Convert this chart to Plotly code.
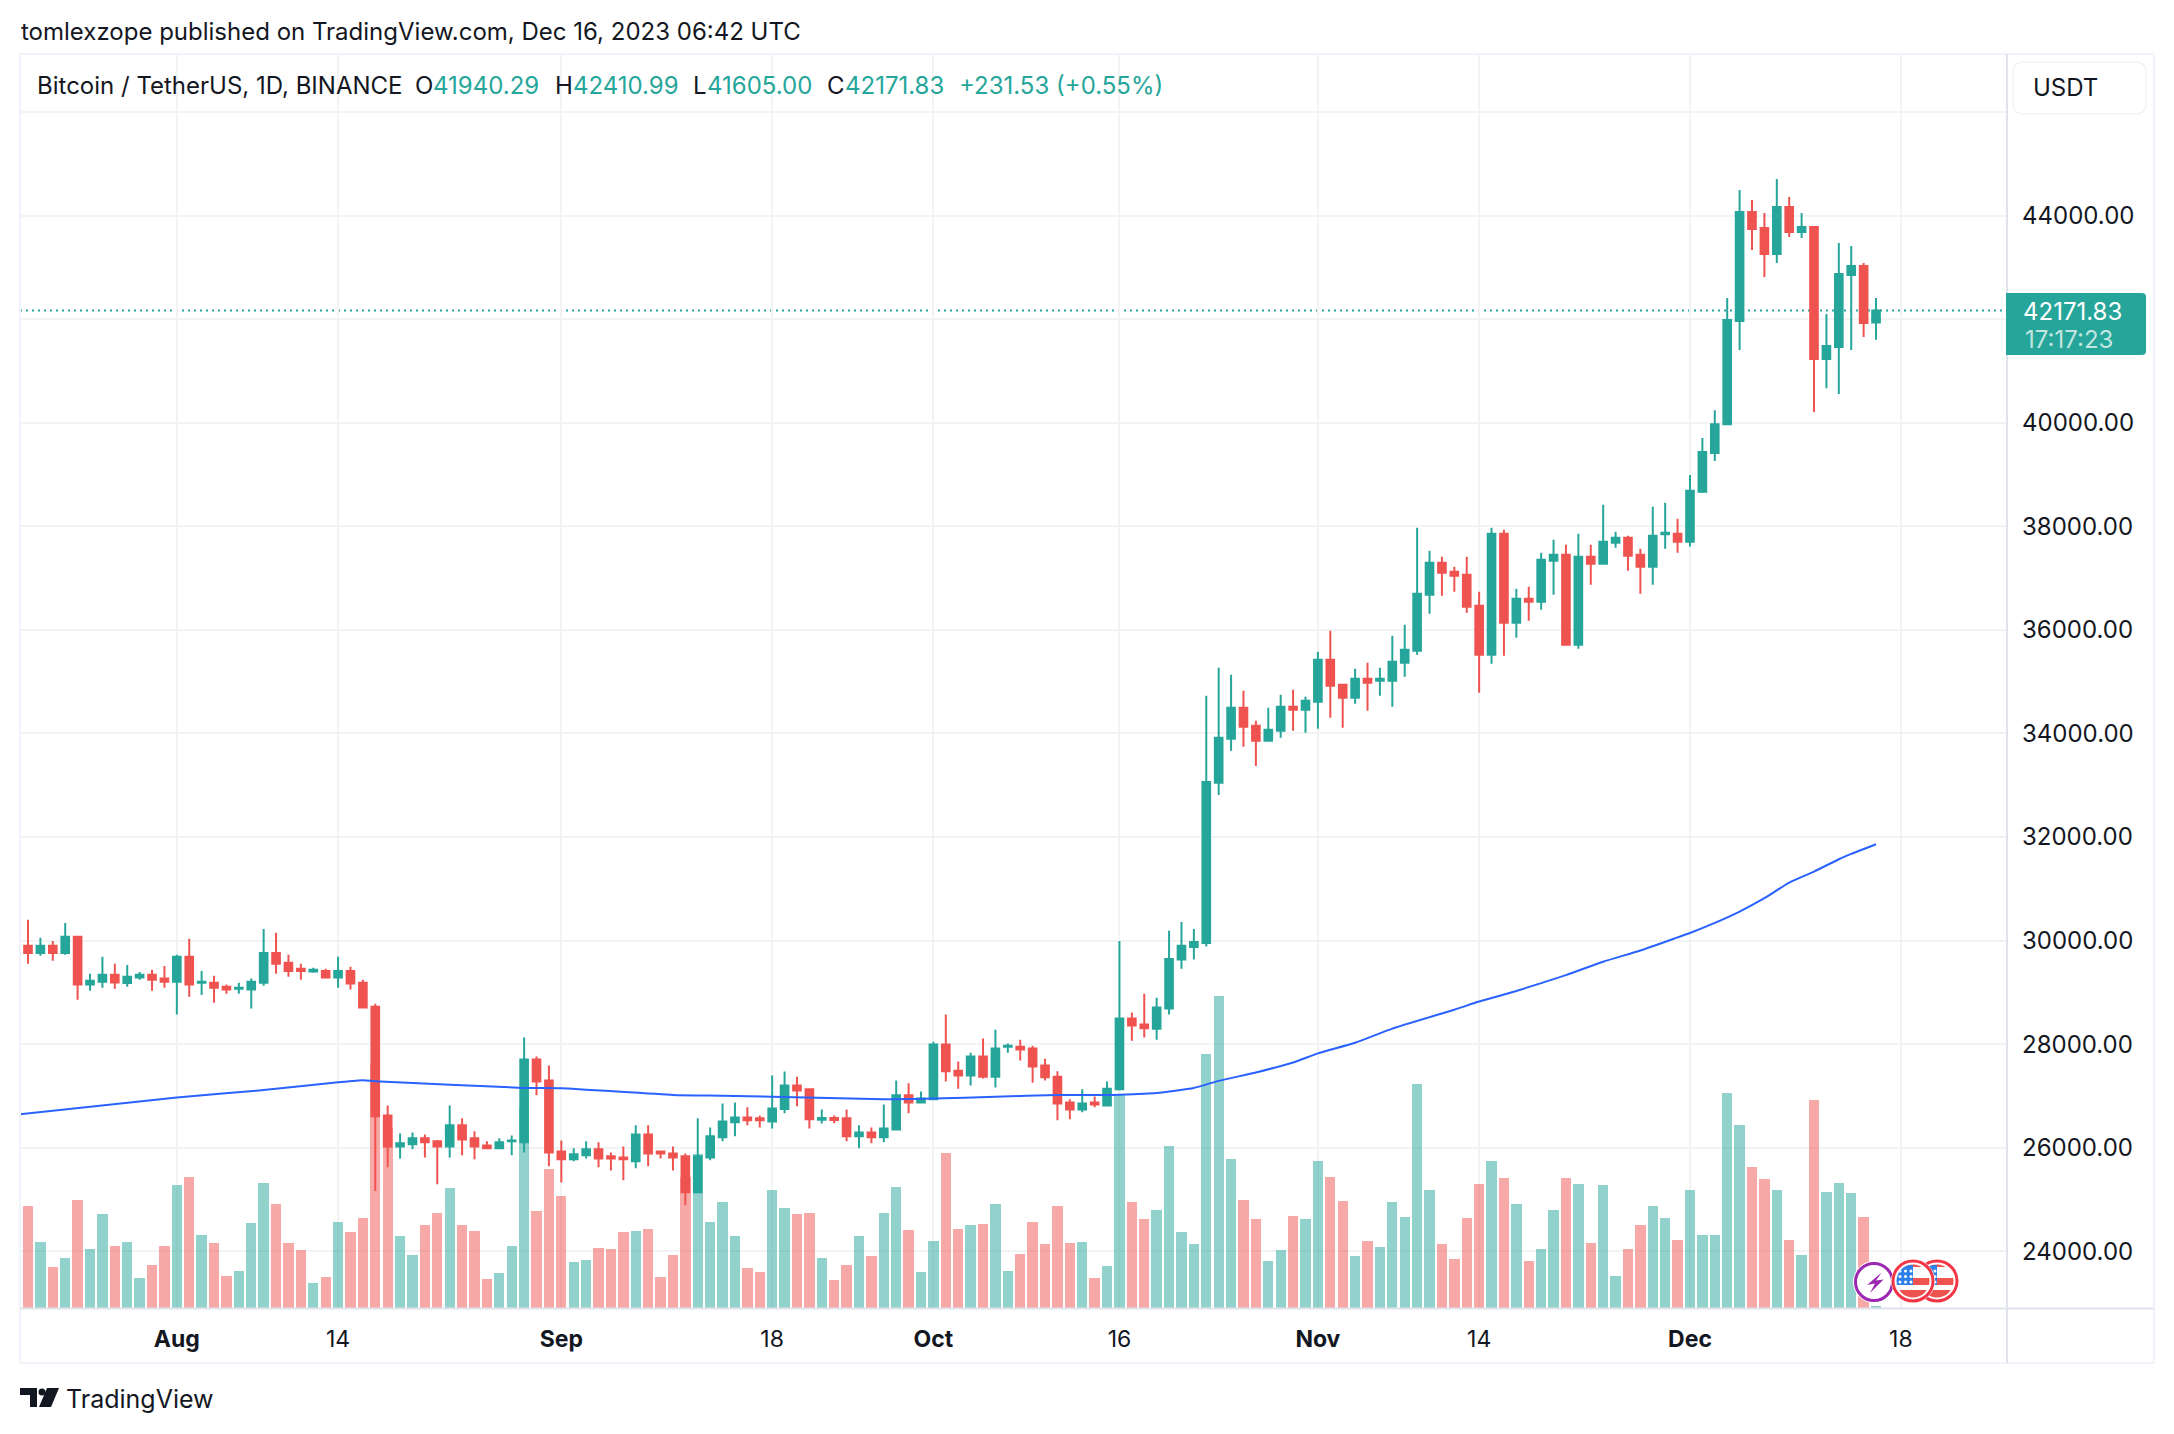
import base64
import pandas as pd
import plotly.graph_objects as go

W, H = 2174, 1434
def px(x): return x / W
def py(y): return 1 - y / H

first_day = "2023-07-20"
opens = [29898,29762,29898,29762,30075,29149,29203,29340,29180,29285,29340,29265,
 29203,29687,29183,29183,29108,29067,29053,29183,29762,29571,29455,29401,29414,29285,29414,29183,28720,26622,26023,26064,26180,26125,26023,26432,26180,26043,25989,26125,26105,27705,27296,
 25928,25778,25853,25968,25832,25812,25737,26255,25928,25887,25832,25138,25812,26200,26493,26581,26568,26507,26745,27201,27126,26541,26575,26568,26221,26295,26200,26350,27010,26874,
 26936,27991,27487,27392,27759,27371,27950,27950,27916,27589,27371,26874,26738,26874,26813,27126,28495,28379,28297,28686,29632,29877,29955,33046,33896,34495,34147,33858,34051,34514,34456,
 34611,35422,34940,34688,35055,35017,35017,35365,35596,36678,37297,37123,37065,36466,35519,37857,36137,36601,36543,37335,37451,35712,37412,37277,37683,37780,37451,37219,37850,37857,
 37705,38667,39417,39974,41965,44071,43762,43259,44167,43684,43781,41231,41463,42854,43028,41940.29]
highs = [30402,30054,29993,30340,30095,29360,29687,29550,29530,29394,29435,29510,
 29728,30034,29414,29319,29149,29183,29265,30225,30150,29728,29550,29476,29455,29687,29496,29244,28781,26813,26275,26295,26255,26146,26813,26568,26316,26125,26180,26234,28127,27760,27589,
 26139,25989,26125,26105,25907,26023,26432,26432,25928,26023,25887,26568,26391,26854,26874,26779,26622,27392,27473,27371,27147,26738,26622,26738,26432,26391,26833,27296,27242,27085,
 28046,28570,27664,27834,28107,28277,28011,28086,27970,27719,27474,26936,27126,26990,27276,29993,28611,28972,28897,30191,30361,30225,34727,35268,35133,34824,34244,34495,34746,34843,34708,
 35577,35983,34940,35249,35365,35268,35886,36099,37973,37528,37412,37219,37412,36736,37973,37934,36794,36833,37490,37741,37644,37857,37644,38417,37895,37818,37567,38379,38456,38147,
 38994,39705,40244,42409,44496,44303,44052,44708,44361,44052,43800,42100,43472,43414,43086,42410.99]
lows = [29550,29707,29612,29728,28856,29033,29087,29067,29108,29244,29033,29087,
 28570,28917,28951,28801,28972,28972,28686,29128,29360,29299,29244,29380,29265,29087,29053,28706,25165,25621,25792,25968,25812,25294,25812,25853,25778,25989,25968,25853,25907,27010,25642,
 25328,25737,25792,25621,25560,25369,25601,25642,25792,25560,24886,25117,25757,26125,26221,26432,26391,26370,26663,26799,26370,26466,26473,26125,25989,26084,26105,26336,26663,26874,
 26936,27276,27140,27201,27337,27160,27834,27685,27256,27296,26527,26547,26683,26779,26799,27106,28066,28127,28086,28570,29455,29632,29884,32814,33664,33742,33374,33858,33915,34051,34012,
 34089,34302,34109,34572,34437,34727,34514,35094,35519,36311,36659,36736,36330,34785,35345,35500,35848,36176,36388,36678,35712,35635,36871,37258,37586,37142,36698,36871,37567,37490,
 37609,38647,39263,39956,41405,43337,42815,43086,43588,43569,40207,40670,40555,41405,41656,41605.00]
closes = [29762,29898,29762,30075,29149,29224,29340,29190,29300,29340,29244,29203,
 29687,29149,29203,29087,29053,29087,29203,29762,29550,29414,29414,29435,29285,29414,29169,28706,26609,26023,26084,26180,26105,26023,26432,26159,26023,25989,26105,26139,27705,27276,25907,
 25778,25873,25968,25792,25792,25778,26255,25887,25887,25812,25138,25832,26221,26507,26581,26527,26527,26758,27201,27106,26547,26575,26534,26221,26295,26200,26370,27010,26874,26949,
 27991,27474,27392,27759,27371,27916,27970,27896,27569,27358,26854,26738,26854,26833,27140,28495,28359,28304,28706,29646,29898,29973,33065,33915,34495,34128,33858,34070,34514,34456,34630,
 35422,34920,34688,35055,34978,35055,35384,35616,36698,37297,37103,37045,36446,35519,37857,36137,36601,36543,37355,37451,35712,37412,37277,37702,37780,37432,37219,37818,37876,37702,
 38686,39436,39974,41984,44071,43742,43259,44167,43684,43781,41231,41482,42873,43028,41926,42171.83]

volume_first_day = "2023-07-19"
volumes = [20000,29000,18800,11700,14300,30700,16800,26500,17700,18800,8600,12300,17700,
 34700,37200,20800,18500,9200,10600,24200,35500,29600,18300,16300,7200,8900,24500,21400,25600,69000,51000,20500,15100,23600,26800,34100,23600,21700,8100,9800,17700,57000,27600,39500,
 31800,12900,13700,17100,16800,21400,21700,22500,8900,14900,37000,43700,24500,29900,20500,11200,10300,33300,28200,26500,26800,14300,7800,12300,20500,14600,27000,34400,22200,10300,
 19100,44000,22500,23400,23900,29600,10600,15400,24500,18000,29000,18300,18800,8400,12000,60500,29900,25100,27900,46000,21400,18000,72000,88500,42300,30700,25100,13400,16300,26200,25300,
 41500,37200,30400,14600,19100,17400,30100,25900,63500,33500,18000,14000,25600,35200,41500,36700,29600,13400,16600,27900,36900,35000,18500,34700,9200,16600,23400,29000,25600,19400,
 33500,20800,20800,61000,51900,39800,36400,33300,19400,14900,59000,33000,35500,32700,25900,500]

ma_dates = ["2023-07-19","2023-08-01","2023-08-08","2023-08-14","2023-08-16","2023-08-17","2023-08-29","2023-09-01","2023-09-10","2023-09-14","2023-09-18","2023-09-27","2023-10-01","2023-10-06","2023-10-11","2023-10-15","2023-10-16","2023-10-19","2023-10-22","2023-10-24","2023-10-27","2023-10-30","2023-11-01","2023-11-04","2023-11-07","2023-11-12","2023-11-14","2023-11-17","2023-11-21","2023-11-24","2023-11-27","2023-11-30","2023-12-01","2023-12-03","2023-12-05","2023-12-07","2023-12-09","2023-12-11","2023-12-13","2023-12-14","2023-12-16"]
ma_values = [26636,26970,27112,27262,27303,27283,27153,27147,27018,27004,26983,26935,26949,26983,27017,27017,27024,27058,27153,27290,27453,27644,27821,28025,28300,28665,28822,29026,29333,29591,29809,30061,30146,30341,30560,30818,31120,31333,31571,31674,31861]

price_ticks = [24000,26000,28000,30000,32000,34000,36000,38000,40000,42000,44000,46000]
price_labels = ["24000.00","26000.00","28000.00","30000.00","32000.00","34000.00","36000.00","38000.00","40000.00","","44000.00",""]
time_ticks = ["2023-08-01","2023-08-14","2023-09-01","2023-09-18","2023-10-01","2023-10-16","2023-11-01","2023-11-14","2023-12-01","2023-12-18"]
time_labels = ["<b>Aug</b>","14","<b>Sep</b>","18","<b>Oct</b>","16","<b>Nov</b>","14","<b>Dec</b>","18"]

UP, DOWN = "#26a69a", "#ef5350"
UP_V, DOWN_V = "rgba(38,166,154,0.5)", "rgba(239,83,80,0.5)"
TEXT, GRID, EDGE, PANEL = "#131722", "#f2f3f5", "#e0e3eb", "#f0f3fa"
FONT = "Inter"

days = pd.date_range(first_day, periods=len(closes))
vol_days = pd.date_range(volume_first_day, periods=len(volumes))
vol_colors = [UP_V] + [UP_V if c >= o else DOWN_V for o, c in zip(opens, closes)]

fig = go.Figure()
fig.add_trace(go.Bar(x=vol_days, y=volumes, marker=dict(color=vol_colors, line_width=0),
                     width=72000000, yaxis="y", showlegend=False))
fig.add_trace(go.Scatter(x=ma_dates, y=ma_values, mode="lines", yaxis="y2",
                         line=dict(color="#2962ff", width=2, shape="spline", smoothing=0.5), showlegend=False))
fig.add_trace(go.Candlestick(x=days, open=opens, high=highs, low=lows, close=closes, yaxis="y2",
                             increasing=dict(line=dict(color=UP, width=2), fillcolor=UP),
                             decreasing=dict(line=dict(color=DOWN, width=2), fillcolor=DOWN),
                             whiskerwidth=0, showlegend=False))

shapes = []
def line(x0, y0, x1, y1, color, width=2):
    shapes.append(dict(type="line", xref="paper", yref="paper", x0=px(x0), y0=py(y0), x1=px(x1), y1=py(y1),
                       line=dict(color=color, width=width), layer="above"))
line(20, 54, 2154, 54, PANEL); line(20, 1363, 2154, 1363, PANEL)
line(20, 54, 20, 1363, PANEL); line(2154, 54, 2154, 1363, PANEL)
line(2007, 54, 2007, 1363, EDGE); line(20, 1308.5, 2154, 1308.5, EDGE)

def path(points):
    return " ".join(("M" if i == 0 else "L") + f"{px(a):.5f},{py(b):.5f}" for i, (a, b) in enumerate(points)) + " Z"
def rrect(x0, y0, x1, y1, r):
    rx, ry = px(r) - px(0), r / H
    return (f"M{px(x0)+rx:.5f},{py(y0):.5f} L{px(x1)-rx:.5f},{py(y0):.5f} Q{px(x1):.5f},{py(y0):.5f} {px(x1):.5f},{py(y0)-ry:.5f} "
            f"L{px(x1):.5f},{py(y1)+ry:.5f} Q{px(x1):.5f},{py(y1):.5f} {px(x1)-rx:.5f},{py(y1):.5f} "
            f"L{px(x0)+rx:.5f},{py(y1):.5f} Q{px(x0):.5f},{py(y1):.5f} {px(x0):.5f},{py(y1)+ry:.5f} "
            f"L{px(x0):.5f},{py(y0)-ry:.5f} Q{px(x0):.5f},{py(y0):.5f} {px(x0)+rx:.5f},{py(y0):.5f} Z")

shapes.append(dict(type="path", xref="paper", yref="paper", path=rrect(2013, 62, 2146, 114, 11),
                   line=dict(color=PANEL, width=1.5), fillcolor="white", layer="above"))
# last-price line and label
shapes.append(dict(type="line", xref="paper", yref="y2", x0=px(20), x1=px(2006), y0=closes[-1], y1=closes[-1],
                   line=dict(color=UP, width=2, dash="2px,4px"), layer="between"))
shapes.append(dict(type="path", xref="paper", yref="paper",
                   path=(f"M{px(2006)},{py(293)} L{px(2142)},{py(293)} Q{px(2146)},{py(293)} {px(2146)},{py(297)} "
                         f"L{px(2146)},{py(351)} Q{px(2146)},{py(355)} {px(2142)},{py(355)} L{px(2006)},{py(355)} Z"),
                   fillcolor=UP, line_width=0, layer="above"))
# TradingView mark
for pts in ([(20, 1388), (37, 1388), (37, 1407), (30, 1407), (30, 1395), (20, 1395)],
            [(47, 1388), (59, 1388), (51, 1407), (39, 1407)]):
    shapes.append(dict(type="path", xref="paper", yref="paper", path=path(pts), fillcolor=TEXT, line_width=0, layer="above"))
shapes.append(dict(type="circle", xref="paper", yref="paper", x0=px(38.5), x1=px(45.5), y0=py(1395.5), y1=py(1388.5),
                   fillcolor=TEXT, line_width=0, layer="above"))

annotations = []
def text(x, y, s, size=24, color=TEXT, anchor="left"):
    annotations.append(dict(xref="paper", yref="paper", x=px(x), y=py(y), text=s, showarrow=False,
                            xanchor=anchor, yanchor="middle", borderpad=0,
                            font=dict(family=FONT, size=size, color=color)))
text(20, 32, "tomlexzope published on TradingView.com, Dec 16, 2023 06:42 UTC")
text(36, 86, "Bitcoin / TetherUS, 1D, BINANCE")
text(414, 86, "O"); text(432, 86, "41940.29", color=UP)
text(554, 86, "H"); text(572, 86, "42410.99", color=UP)
text(692, 86, "L"); text(706, 86, "41605.00", color=UP)
text(826, 86, "C"); text(844, 86, "42171.83", color=UP)
text(958, 86, "+231.53 (+0.55%)", color=UP)
text(2032, 87, "USDT")
text(2022, 311, "42171.83", color="white")
text(2024, 339, "17:17:23", color="rgba(255,255,255,0.72)")
text(65, 1399, "TradingView", size=25)

def flag(cx, cy, cid):
    stars = "".join(f'<circle cx="{cx-13+i*5.5}" cy="{cy-10+j*5.5}" r="1.5" fill="white"/>' for i in range(3) for j in range(3))
    return (f'<clipPath id="{cid}"><circle cx="{cx}" cy="{cy}" r="16.5"/></clipPath>'
            f'<circle cx="{cx}" cy="{cy}" r="22" fill="white"/>'
            f'<circle cx="{cx}" cy="{cy}" r="20" fill="white" stroke="#f23645" stroke-width="3"/>'
            f'<g clip-path="url(#{cid})"><rect x="{cx-20}" y="{cy-20}" width="40" height="6" fill="#ef5350"/>'
            f'<rect x="{cx}" y="{cy-3}" width="20" height="7" fill="#ef5350"/>'
            f'<rect x="{cx-20}" y="{cy+9}" width="40" height="12" fill="#ef5350"/>'
            f'<rect x="{cx-20}" y="{cy-16}" width="20" height="20" fill="#2f7fe8"/>{stars}</g>')
svg = ('<svg xmlns="http://www.w3.org/2000/svg" viewBox="1845 1255 120 54" width="120" height="54">'
       '<circle cx="1874" cy="1282" r="21" fill="white"/>'
       '<circle cx="1874" cy="1282" r="18.5" fill="white" stroke="#9c27b0" stroke-width="3"/>'
       '<polygon points="1881.5,1272.5 1867,1285 1875,1283.5 1870,1293 1883.5,1279.5 1876,1280.5" fill="#9c27b0"/>'
       + flag(1937, 1281, "f2") + flag(1913, 1281, "f1") + '</svg>')
images = [dict(source="data:image/svg+xml;base64," + base64.b64encode(svg.encode()).decode(),
               xref="paper", yref="paper", x=px(1845), y=py(1255), sizex=120 / W, sizey=54 / H,
               xanchor="left", yanchor="top", sizing="stretch", layer="above")]

fig.update_layout(
    width=W, height=H, margin=dict(l=0, r=0, t=0, b=0), autosize=False,
    paper_bgcolor="white", plot_bgcolor="white", boxgap=0.12, bargap=0,
    shapes=shapes, annotations=annotations, images=images, dragmode=False,
    xaxis=dict(type="date", domain=[px(20), px(2006)], range=["2023-07-19 08:31", "2023-12-26 11:30"],
               tickmode="array", tickvals=time_ticks, ticktext=time_labels, showgrid=True, gridcolor=GRID, gridwidth=1.5,
               ticks="", showline=False, zeroline=False, rangeslider=dict(visible=False), ticklabelstandoff=15,
               tickfont=dict(family=FONT, size=23, color=TEXT)),
    yaxis=dict(domain=[py(1308), py(54)], range=[0, 355200], visible=False, fixedrange=True),
    yaxis2=dict(domain=[py(1308), py(54)], range=[22903, 47124], overlaying="y", side="right", anchor="x",
                tickmode="array", tickvals=price_ticks, ticktext=price_labels, showgrid=True, gridcolor=GRID, gridwidth=1.5,
                ticks="", showline=False, zeroline=False, ticklabelstandoff=15,
                tickfont=dict(family=FONT, size=24, color=TEXT)),
)
fig.write_html("out.html", config=dict(displayModeBar=False),
               post_script="document.body.style.margin='0';document.body.style.overflow='hidden';")
